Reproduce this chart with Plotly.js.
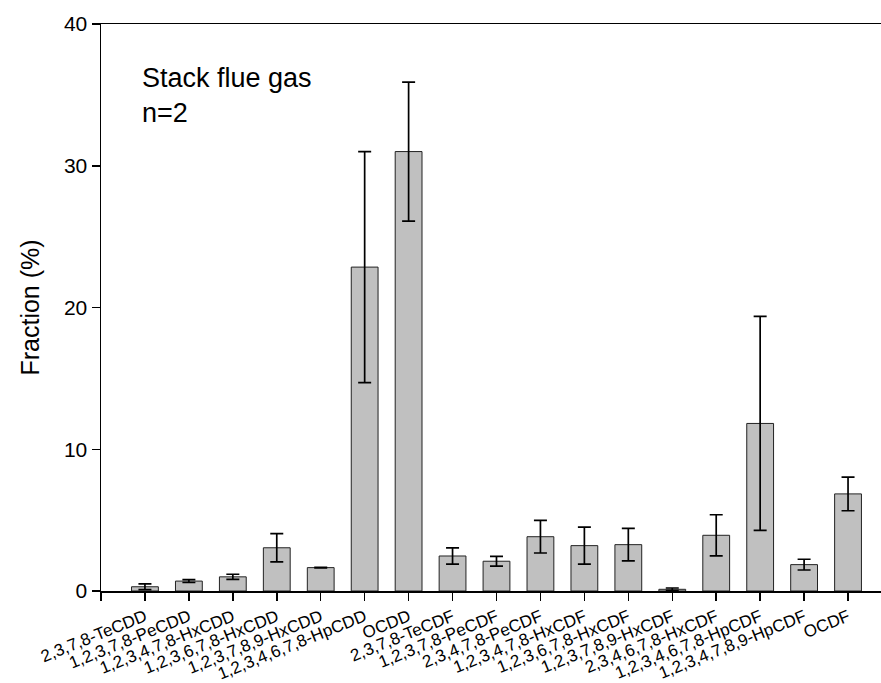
<!DOCTYPE html>
<html>
<head>
<meta charset="utf-8">
<script src="https://cdn.plot.ly/plotly-3.0.1.min.js"></script>
<style>html,body{margin:0;padding:0;background:#fff}#chart{width:881px;height:683px}</style>
</head>
<body>
<div id="chart"></div>
<script>
const categories = ["2,3,7,8-TeCDD","1,2,3,7,8-PeCDD","1,2,3,4,7,8-HxCDD","1,2,3,6,7,8-HxCDD","1,2,3,7,8,9-HxCDD","1,2,3,4,6,7,8-HpCDD","OCDD","2,3,7,8-TeCDF","1,2,3,7,8-PeCDF","2,3,4,7,8-PeCDF","1,2,3,4,7,8-HxCDF","1,2,3,6,7,8-HxCDF","1,2,3,7,8,9-HxCDF","2,3,4,6,7,8-HxCDF","1,2,3,4,6,7,8-HpCDF","1,2,3,4,7,8,9-HpCDF","OCDF"];
const fractions = [0.3, 0.7, 1.0, 3.05, 1.65, 22.85, 31.0, 2.47, 2.1, 3.83, 3.2, 3.27, 0.12, 3.93, 11.82, 1.86, 6.85];
const errors = [0.2, 0.1, 0.18, 1.0, 0.02, 8.15, 4.9, 0.57, 0.34, 1.15, 1.3, 1.15, 0.09, 1.45, 7.55, 0.38, 1.19];
const positions = categories.map((c, i) => i + 1);
const tickPositions = [0].concat(positions);
const tickLabels = [""].concat(categories);
const yTicks = [0, 10, 20, 30, 40];

const font = "Arial, 'Liberation Sans', sans-serif";

Plotly.newPlot("chart", [{
  type: "bar",
  x: positions,
  y: fractions,
  width: 0.61,
  marker: {color: "#c0c0c0", line: {color: "#222", width: 1}},
  error_y: {type: "data", array: errors, visible: true, color: "#000", thickness: 1.7, width: 6.5},
  hoverinfo: "skip"
}], {
  width: 881, height: 683,
  margin: {l: 101, r: 0, t: 24, b: 92},
  paper_bgcolor: "#fff", plot_bgcolor: "#fff",
  showlegend: false,
  font: {family: font, color: "#000"},
  xaxis: {
    range: [0, 17.75], tickmode: "array", tickvals: tickPositions, ticktext: tickLabels,
    tickangle: -22, tickfont: {size: 17, family: font},
    ticks: "outside", ticklen: 8, tickwidth: 1.5, tickcolor: "#000",
    showline: true, linecolor: "#000", linewidth: 1.5, mirror: true,
    showgrid: false, zeroline: false, fixedrange: true
  },
  yaxis: {
    range: [0, 40], tickmode: "array", tickvals: yTicks,
    tickfont: {size: 21, family: font},
    ticks: "outside", ticklen: 8, tickwidth: 1.5, tickcolor: "#000",
    showline: true, linecolor: "#000", linewidth: 1.5,
    showgrid: false, zeroline: false, fixedrange: true,
    title: {text: "Fraction (%)", font: {size: 25, family: font}, standoff: 17}
  },
  annotations: [{
    xref: "paper", yref: "paper", x: 0.05, y: 0.935, xanchor: "left", yanchor: "top",
    align: "left", showarrow: false,
    text: "Stack flue gas<br>n=2", font: {size: 27, family: font, color: "#000"}
  }]
}, {displayModeBar: false, staticPlot: true});
</script>
</body>
</html>
